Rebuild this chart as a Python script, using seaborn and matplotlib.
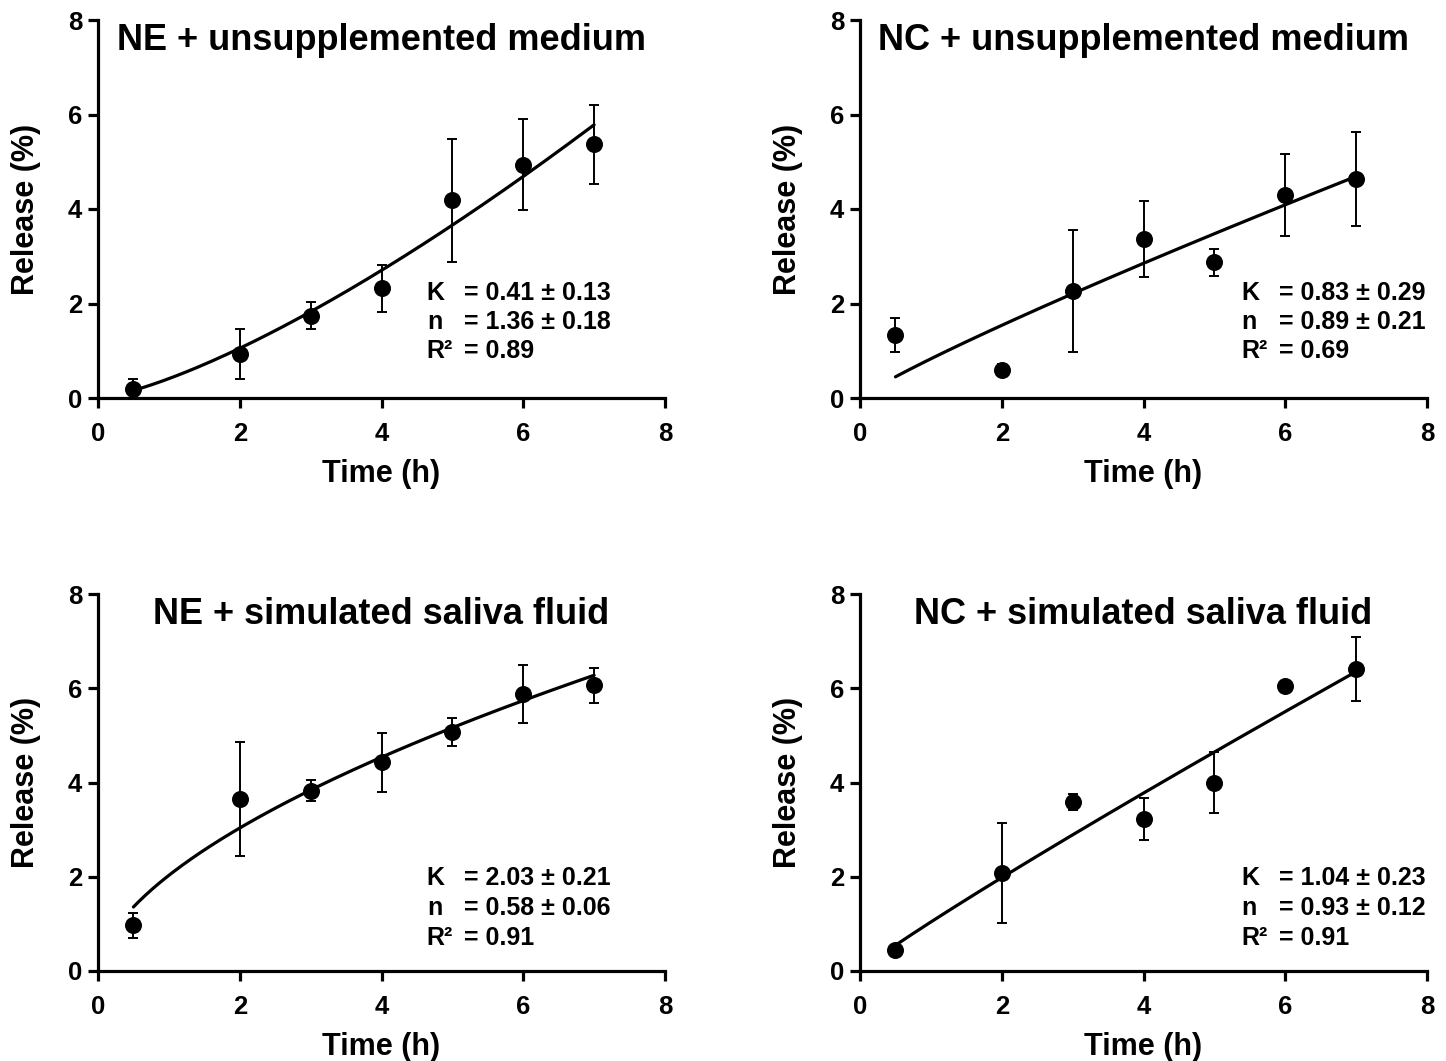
import matplotlib
matplotlib.use("Agg")
import matplotlib.pyplot as plt
import numpy as np
import pandas as pd
import seaborn as sns

# sampling times (h)
TIME = [0.5, 2, 3, 4, 5, 6, 7]

# panel titles
TITLES = [
    "NE + unsupplemented medium",
    "NC + unsupplemented medium",
    "NE + simulated saliva fluid",
    "NC + simulated saliva fluid",
]

# mean release (%)
NE_MEDIUM = [0.20, 0.94, 1.74, 2.32, 4.18, 4.94, 5.37]
NC_MEDIUM = [1.34, 0.60, 2.26, 3.36, 2.87, 4.29, 4.63]
NE_SALIVA = [0.97, 3.65, 3.83, 4.43, 5.07, 5.88, 6.06]
NC_SALIVA = [0.44, 2.08, 3.58, 3.23, 4.00, 6.04, 6.40]

# error bar half-widths
NE_MEDIUM_ERR = [0.21, 0.53, 0.29, 0.50, 1.30, 0.97, 0.84]
NC_MEDIUM_ERR = [0.36, 0.12, 1.29, 0.80, 0.28, 0.87, 1.00]
NE_SALIVA_ERR = [0.26, 1.20, 0.22, 0.63, 0.30, 0.61, 0.37]
NC_SALIVA_ERR = [0.03, 1.07, 0.17, 0.44, 0.64, 0.05, 0.68]

# Korsmeyer-Peppas fit parameters printed on each panel
FIT_K = [0.41, 0.83, 2.03, 1.04]
FIT_K_SD = [0.13, 0.29, 0.21, 0.23]
FIT_N = [1.36, 0.89, 0.58, 0.93]
FIT_N_SD = [0.18, 0.21, 0.06, 0.12]
FIT_R2 = [0.89, 0.69, 0.91, 0.91]

MEANS = [NE_MEDIUM, NC_MEDIUM, NE_SALIVA, NC_SALIVA]
ERRS = [NE_MEDIUM_ERR, NC_MEDIUM_ERR, NE_SALIVA_ERR, NC_SALIVA_ERR]

sns.set_theme(style="ticks")
plt.rcParams["font.family"] = ["Liberation Sans", "DejaVu Sans"]
plt.rcParams["font.weight"] = "bold"
plt.rcParams["axes.labelweight"] = "bold"
for key in ("text.color", "axes.labelcolor", "xtick.color", "ytick.color", "axes.edgecolor"):
    plt.rcParams[key] = "black"

W, H = 1446, 1061
fig = plt.figure(figsize=(W / 100, H / 100), dpi=100)

# axes boxes in pixels: left, top (value 8), right, bottom (value 0)
boxes = [(98, 20, 665, 398), (860, 20, 1427, 398),
         (98, 594, 665, 971), (860, 594, 1427, 971)]
text_x = [0.58, 0.673, 0.58, 0.673]
text_y = [(0.278, 0.200, 0.124), (0.278, 0.200, 0.124),
          (0.247, 0.166, 0.088), (0.247, 0.166, 0.088)]

for i, (l, t, r, b) in enumerate(boxes):
    ax = fig.add_axes([l / W, 1 - b / H, (r - l) / W, (b - t) / H])
    df = pd.DataFrame({"Time": TIME, "Release": MEANS[i], "err": ERRS[i]})

    t_fit = np.linspace(TIME[0], TIME[-1], 200)
    fit = pd.DataFrame({"Time": t_fit, "Release": FIT_K[i] * t_fit ** FIT_N[i]})
    sns.lineplot(data=fit, x="Time", y="Release", color="black", linewidth=2.3, ax=ax, zorder=2)

    ax.errorbar(df["Time"], df["Release"], yerr=df["err"], fmt="none",
                ecolor="black", elinewidth=1.4, capsize=3.5, capthick=1.4, zorder=3)
    sns.scatterplot(data=df, x="Time", y="Release", color="black", s=150,
                    edgecolor="black", linewidth=0, ax=ax, zorder=4)

    ax.set_xlim(0, 8)
    ax.set_ylim(0, 8)
    ax.set_xticks([0, 2, 4, 6, 8])
    ax.set_yticks([0, 2, 4, 6, 8])
    sns.despine(ax=ax)
    for s in ("left", "bottom"):
        ax.spines[s].set_linewidth(2.3)
    ax.tick_params(width=2.3, length=7.5, labelsize=18.5)
    ax.tick_params(axis="x", pad=10)
    ax.tick_params(axis="y", pad=4)
    for lab in ax.get_xticklabels() + ax.get_yticklabels():
        lab.set_fontweight("bold")
    ax.set_xlabel("Time (h)", fontsize=22, fontweight="bold", labelpad=9)
    ax.set_ylabel("Release (%)", fontsize=22, fontweight="bold", labelpad=19)

    ax.text(0.5, 0.945, TITLES[i], transform=ax.transAxes, ha="center", va="center",
            fontsize=26, fontweight="bold")

    x0 = text_x[i]
    y1, y2, y3 = text_y[i]
    kw = dict(transform=ax.transAxes, ha="left", va="center", fontsize=18, fontweight="bold")
    off = 0.066
    ax.text(x0, y1, "K", **kw)
    ax.text(x0 + off, y1, f"= {FIT_K[i]:.2f} \u00b1 {FIT_K_SD[i]:.2f}", **kw)
    ax.text(x0, y2, "n", **kw)
    ax.text(x0 + off, y2, f"= {FIT_N[i]:.2f} \u00b1 {FIT_N_SD[i]:.2f}", **kw)
    ax.text(x0, y3, "R\u00b2", **kw)
    ax.text(x0 + off, y3, f"= {FIT_R2[i]:.2f}", **kw)

fig.savefig("out.png", dpi=100)
